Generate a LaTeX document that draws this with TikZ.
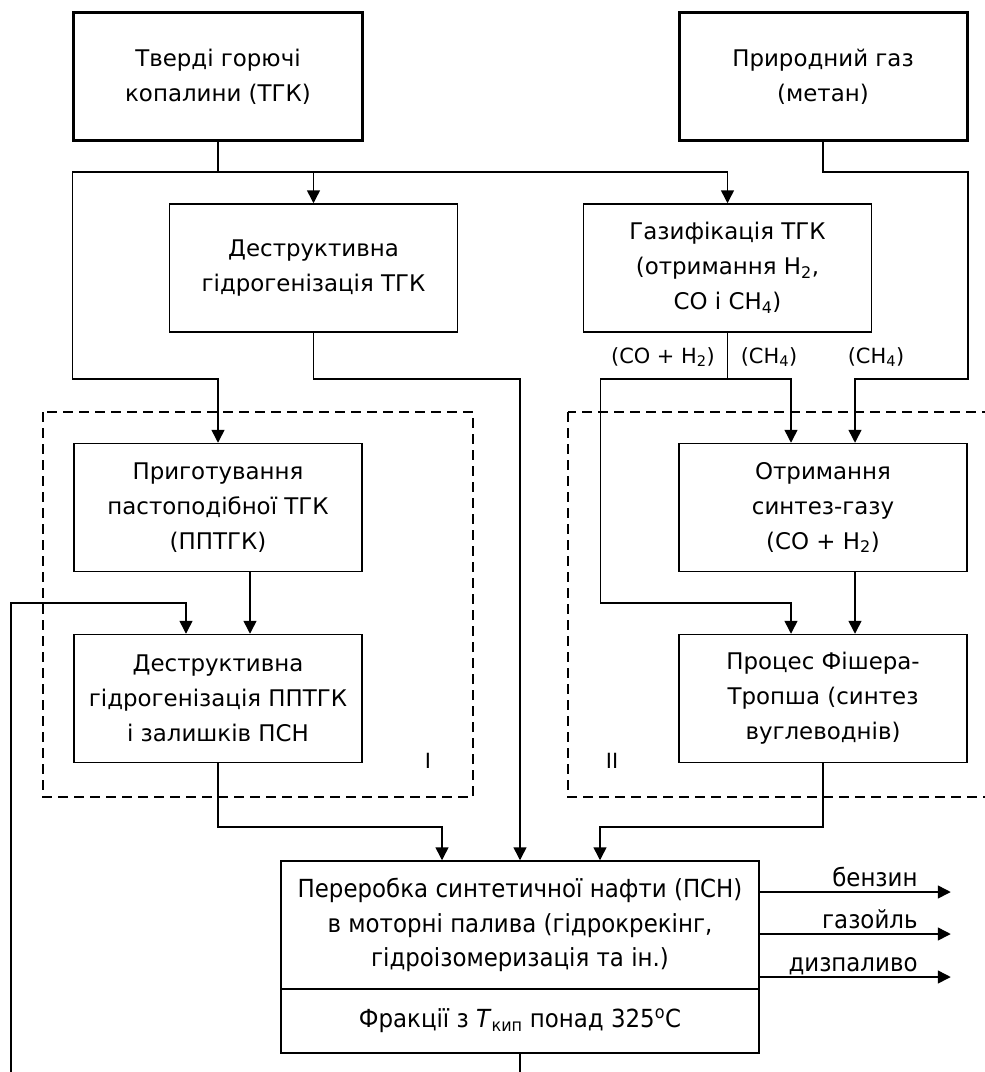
\documentclass[tikz,border=0pt]{standalone}
\usepackage{fontspec}
\setmainfont{DejaVu Sans}
\newfontfamily\narrowfont[FakeStretch=0.92]{DejaVu Sans}
\usetikzlibrary{positioning,arrows.meta}

\begin{document}
\begin{tikzpicture}[x=1bp,y=-1bp,>={Triangle[length=13bp,width=13bp]},line width=1.5bp,
  box/.style={draw,minimum width=288bp,minimum height=128bp,align=center,inner sep=2bp,font=\fontsize{23}{35}\selectfont},
  src/.style={box,line width=3bp},
  wide/.style={box,minimum width=478bp,font=\narrowfont\fontsize{25}{35}\selectfont},
  tag/.style={inner sep=2bp,font=\fontsize{21}{25}\selectfont},
  outtag/.style={inner sep=0pt,font=\narrowfont\fontsize{25}{25}\selectfont},
  group/.style={draw,dash pattern=on 10bp off 6bp},
  on grid]
  \useasboundingbox (0,0) rectangle (985,1072);
  \draw[group] (43,412) rectangle (473,797);
  \draw[group] (568,412) rectangle (995,797);
  \node[tag] at (428,761) {I};
  \node[tag] at (612,761) {II};

  \node[src] (tgk) at (218,76.5) {Тверді горючі\\копалини (ТГК)};
  \node[src] (gas) at (823,76.5) {Природний газ\\(метан)};
  \node[box] (dh) at (313.5,268) {Деструктивна\\гідрогенізація ТГК};
  \node[box] (gasif) at (727.5,268) {Газифікація ТГК\\(отримання H\textsubscript{2},\\CO і CH\textsubscript{4})};
  \node[box,below=431bp of tgk] (prep) {Приготування\\пастоподібної ТГК\\(ППТГК)};
  \node[box,below=191bp of prep] (dhp) {Деструктивна\\гідрогенізація ППТГК\\і залишків ПСН};
  \node[box,below=431bp of gas] (syn) {Отримання\\синтез-газу\\(CO + H\textsubscript{2})};
  \node[box,below=191bp of syn] (ft) {Процес Фішера-\\Тропша (синтез\\вуглеводнів)};
  \node[wide] (main) at (520,925) {Переробка синтетичної нафти (ПСН)\\в моторні палива (гідрокрекінг,\\гідроізомеризація та ін.)};
  \node[wide,minimum height=64bp,below=96bp of main] (frac) {Фракції з \textit{T}\textsubscript{кип} понад 325\textsuperscript{o}C};

  \coordinate (bus1) at (0,172);
  \coordinate (bus2) at (0,379);
  \coordinate (bus3) at (0,603);
  \coordinate (bus4) at (0,827);
  \coordinate (ret) at (11,1077);
  \coordinate (dhp in1) at ([xshift=-32bp]dhp.north);
  \coordinate (dhp in2) at ([xshift=32bp]dhp.north);
  \coordinate (syn in1) at ([xshift=-32bp]syn.north);
  \coordinate (syn in2) at ([xshift=32bp]syn.north);
  \coordinate (ft in1) at ([xshift=-32bp]ft.north);
  \coordinate (ft in2) at ([xshift=32bp]ft.north);
  \coordinate (main in1) at ([xshift=-78bp]main.north);
  \coordinate (main in3) at ([xshift=80bp]main.north);

  \draw[->] (tgk.south) -- (tgk.south |- bus1) -| (dh.north);
  \draw[->] (tgk.south |- bus1) -| (gasif.north);
  \draw[->] (tgk.south |- bus1) -- (tgk.west |- bus1) |- (prep.north |- bus2) -- (prep.north);
  \draw[->] (dh.south) |- (main.north |- bus2) -- (main.north);
  \draw[->] (gas.south) |- (syn.east |- bus1) |- (syn in2 |- bus2) -- (syn in2);
  \draw[->] (gasif.south) |- (syn in1 |- bus2) -- (syn in1);
  \draw[->] (gasif.south |- bus2) -- ++(-127,0) |- (ft in1 |- bus3) -- (ft in1);
  \draw[->] ([xshift=32bp]syn.south) -- (ft in2);
  \draw[->] ([xshift=32bp]prep.south) -- (dhp in2);
  \draw[->] (dhp.south) |- (main in1 |- bus4) -- (main in1);
  \draw[->] (ft.south) |- (main in3 |- bus4) -- (main in3);
  \draw[->] (frac.south) |- (ret) |- (dhp in1 |- bus3) -- (dhp in1);

  \node[tag] at (663,357) {(CO + H\textsubscript{2})};
  \node[tag] at (769,357) {(CH\textsubscript{4})};
  \node[tag] at (876,357) {(CH\textsubscript{4})};

  \draw[->] ([yshift=33bp]main.east) -- ++(191,0) node[outtag,pos=.83,anchor=base east,yshift=6bp] {бензин};
  \draw[->] ([yshift=-9bp]main.east) -- ++(191,0) node[outtag,pos=.83,anchor=base east,yshift=6bp] {газойль};
  \draw[->] ([yshift=-52bp]main.east) -- ++(191,0) node[outtag,pos=.83,anchor=base east,yshift=6bp] {дизпаливо};
\end{tikzpicture}
\end{document}
